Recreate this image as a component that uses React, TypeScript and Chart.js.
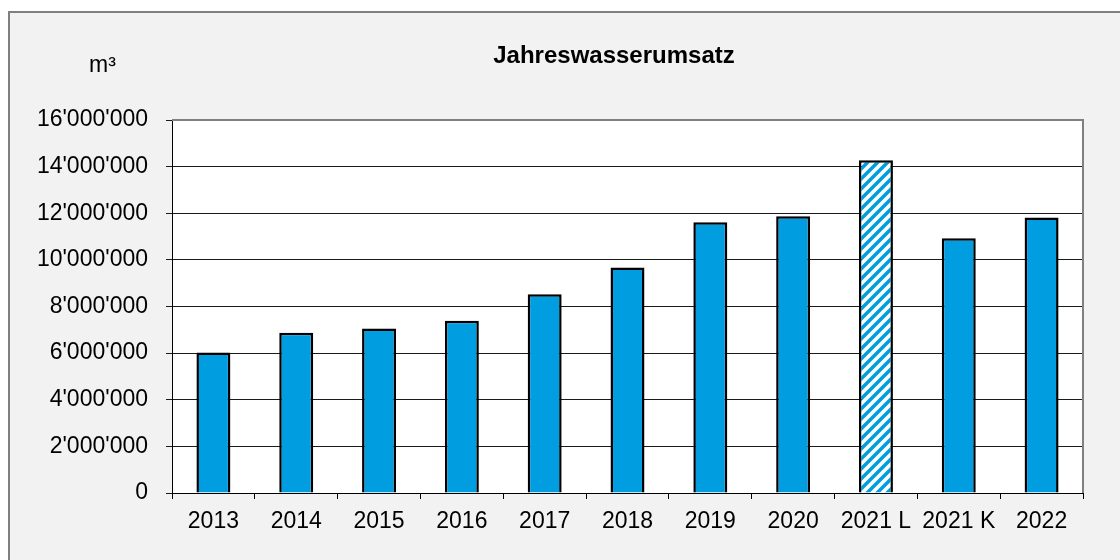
import React, { useEffect, useRef } from "react";
import { Chart, registerables } from "chart.js";

Chart.register(...registerables);

const categories = ["2013", "2014", "2015", "2016", "2017", "2018", "2019", "2020", "2021 L", "2021 K", "2022"];
const values = [6030000, 6870000, 7060000, 7390000, 8530000, 9670000, 11610000, 11870000, 14270000, 10930000, 11820000];
const hatchedCategories = ["2021 L"];
const yTicksMax = 16000000;
const yTickStep = 2000000;
const chartTitle = "Jahreswasserumsatz";
const unitLabel = "m³";

const FONT = "'Liberation Sans', Arial, sans-serif";
const BLUE = "#009EE0";

function makePattern(): CanvasPattern | string {
  const s = 10;
  const c = document.createElement("canvas");
  c.width = s;
  c.height = s;
  const g = c.getContext("2d");
  if (!g) return BLUE;
  g.fillStyle = "#ffffff";
  g.fillRect(0, 0, s, s);
  g.strokeStyle = BLUE;
  g.lineWidth = 3.5;
  g.beginPath();
  g.moveTo(-2, s + 2);
  g.lineTo(s + 2, -2);
  g.moveTo(-2, 2);
  g.lineTo(2, -2);
  g.moveTo(s - 2, s + 2);
  g.lineTo(s + 2, s - 2);
  g.stroke();
  const p = g.createPattern(c, "repeat");
  return p || BLUE;
}

function fmt(v: number): string {
  return String(Math.round(v)).replace(/\B(?=(\d{3})+(?!\d))/g, "'");
}

export default function App() {
  const ref = useRef<HTMLCanvasElement | null>(null);

  useEffect(() => {
    document.body.style.margin = "0";
    const canvas = ref.current;
    if (!canvas) return;
    const pattern = makePattern();

    const bgPlugin = {
      id: "bgPlugin",
      beforeDraw(chart: any) {
        const ctx = chart.ctx;
        const W = chart.width;
        const H = chart.height;
        ctx.save();
        ctx.fillStyle = "#ffffff";
        ctx.fillRect(0, 0, W, H);
        ctx.fillStyle = "#f2f2f2";
        ctx.fillRect(8, 11, W - 8, H - 11);
        ctx.strokeStyle = "#808080";
        ctx.lineWidth = 2;
        ctx.beginPath();
        ctx.moveTo(9, H);
        ctx.lineTo(9, 12);
        ctx.lineTo(W, 12);
        ctx.stroke();
        const a = chart.chartArea;
        ctx.fillStyle = "#ffffff";
        ctx.fillRect(a.left, a.top, a.right - a.left, a.bottom - a.top);
        ctx.restore();
      },
      afterDraw(chart: any) {
        const ctx = chart.ctx;
        const a = chart.chartArea;
        ctx.save();
        ctx.strokeStyle = "#808080";
        ctx.lineWidth = 2;
        ctx.beginPath();
        ctx.moveTo(a.left, a.top);
        ctx.lineTo(a.right, a.top);
        ctx.lineTo(a.right, a.bottom);
        ctx.stroke();
        ctx.fillStyle = "#000000";
        ctx.font = "bold 24px " + FONT;
        ctx.textAlign = "center";
        ctx.textBaseline = "alphabetic";
        ctx.fillText(chartTitle, 614, 63);
        ctx.font = "23px " + FONT;
        ctx.textAlign = "left";
        ctx.fillText(unitLabel, 89, 72);
        ctx.restore();
      },
    };

    const chart = new Chart(canvas, {
      type: "bar",
      data: {
        labels: categories,
        datasets: [
          {
            data: values,
            backgroundColor: categories.map((c) => (hatchedCategories.includes(c) ? pattern : BLUE)) as any,
            borderColor: "#000000",
            borderWidth: 2.5,
            barPercentage: 0.41,
            categoryPercentage: 1,
          },
        ],
      },
      options: {
        responsive: false,
        animation: false,
        devicePixelRatio: 1,
        layout: { padding: { top: 120, right: 37, left: 0, bottom: 0 } },
        plugins: {
          legend: { display: false },
          title: { display: false },
          tooltip: { enabled: false },
        },
        scales: {
          x: {
            grid: {
              display: true,
              drawOnChartArea: false,
              drawTicks: true,
              tickLength: 6,
              color: "#000000",
              offset: true,
            },
            border: { display: true, color: "#000000", width: 1 },
            ticks: {
              color: "#000000",
              font: { family: FONT, size: 23 },
              padding: 9,
              maxRotation: 0,
              autoSkip: false,
            },
            afterFit(scale: any) {
              scale.height = 67;
            },
          },
          y: {
            min: 0,
            max: yTicksMax,
            grid: {
              display: true,
              drawOnChartArea: true,
              drawTicks: true,
              tickLength: 6,
              color: "#1a1a1a",
              lineWidth: 1,
            },
            border: { display: true, color: "#000000", width: 1 },
            ticks: {
              stepSize: yTickStep,
              color: "#000000",
              font: { family: FONT, size: 23 },
              padding: 18,
              callback: (v: any) => fmt(Number(v)),
            },
            afterFit(scale: any) {
              scale.width = 172;
            },
          },
        },
      },
      plugins: [bgPlugin],
    });

    return () => {
      chart.destroy();
    };
  }, []);

  return (
    <div style={{ position: "fixed", left: 0, top: 0, width: 1120, height: 560 }}>
      <canvas ref={ref} width={1120} height={560} style={{ width: 1120, height: 560, display: "block" }} />
    </div>
  );
}
